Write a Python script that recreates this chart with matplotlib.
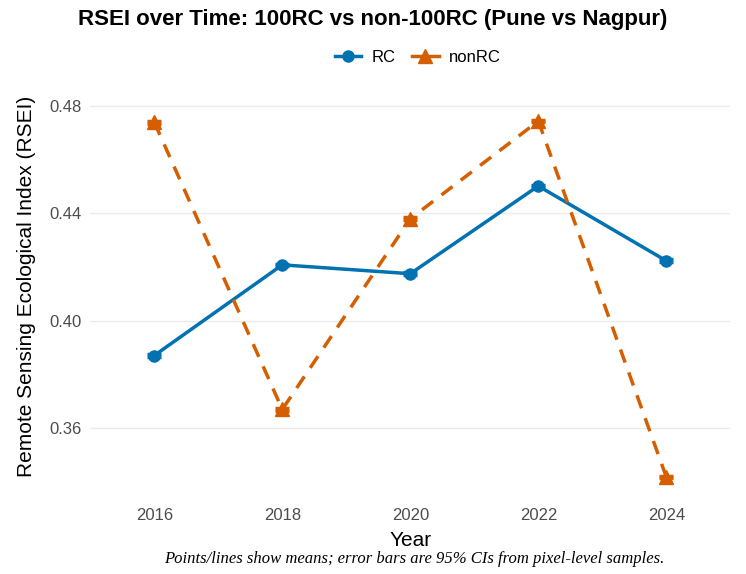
import matplotlib
matplotlib.use("Agg")
import matplotlib.pyplot as plt
from matplotlib.lines import Line2D

# data
years = [2016, 2018, 2020, 2022, 2024]
rc_mean = [0.387, 0.4208, 0.4175, 0.4502, 0.4223]
nonrc_mean = [0.474, 0.3669, 0.4380, 0.4744, 0.3417]
rc_ci = [0.0005, 0.0005, 0.0005, 0.0005, 0.0005]
nonrc_ci = [0.0005, 0.0005, 0.0005, 0.0005, 0.0005]
y_ticks = [0.36, 0.40, 0.44, 0.48]

blue = "#0072B2"
orange = "#D55E00"

plt.rcParams["font.family"] = ["Liberation Sans", "DejaVu Sans"]

fig = plt.figure(figsize=(7.46, 5.74), dpi=100)
ax = fig.add_axes([0.121, 0.14, 0.858, 0.721])

ax.errorbar(years, rc_mean, yerr=rc_ci, color=blue, lw=2.5, marker="o",
            ms=8, capsize=5, capthick=2.5, elinewidth=2.5, zorder=3)
ax.errorbar(years, nonrc_mean, yerr=nonrc_ci, color=orange, lw=2.5,
            ls=(0, (4, 3)), marker="^", ms=10, capsize=5, capthick=2.5,
            elinewidth=2.5, zorder=3)

ax.set_xlim(2015.0, 2025.0)
ax.set_ylim(0.3355, 0.4898)
ax.set_xticks(years)
ax.set_yticks(y_ticks)
ax.set_yticklabels([f"{v:.2f}" for v in y_ticks])
ax.grid(axis="y", color="#ebebeb", lw=1)
ax.set_axisbelow(True)
for s in ax.spines.values():
    s.set_visible(False)
ax.tick_params(axis="y", length=0, labelsize=12, colors="#4d4d4d", pad=6)
ax.tick_params(axis="x", length=0, labelsize=12, colors="#4d4d4d", pad=10)

ax.set_xlabel("Year", fontsize=15, labelpad=6)
ax.set_ylabel("Remote Sensing Ecological Index (RSEI)", fontsize=15, labelpad=10)

fig.suptitle("RSEI over Time: 100RC vs non-100RC (Pune vs Nagpur)",
             fontsize=16, fontweight="bold", y=0.985, x=0.5)

handles = [Line2D([], [], color=blue, lw=2.5, marker="o", ms=8),
           Line2D([], [], color=orange, lw=2.5, marker="^", ms=10)]
fig.legend(handles, ["RC", "nonRC"], loc="center", bbox_to_anchor=(0.56, 0.9),
           ncol=2, frameon=False, fontsize=12, handlelength=1.6,
           columnspacing=1.0, handletextpad=0.6)

fig.text(0.555, 0.026, "Points/lines show means; error bars are 95% CIs from pixel-level samples.",
         ha="center", va="center", fontsize=12, style="italic", family="Liberation Serif")

fig.savefig("out.png", dpi=100, facecolor="white")
